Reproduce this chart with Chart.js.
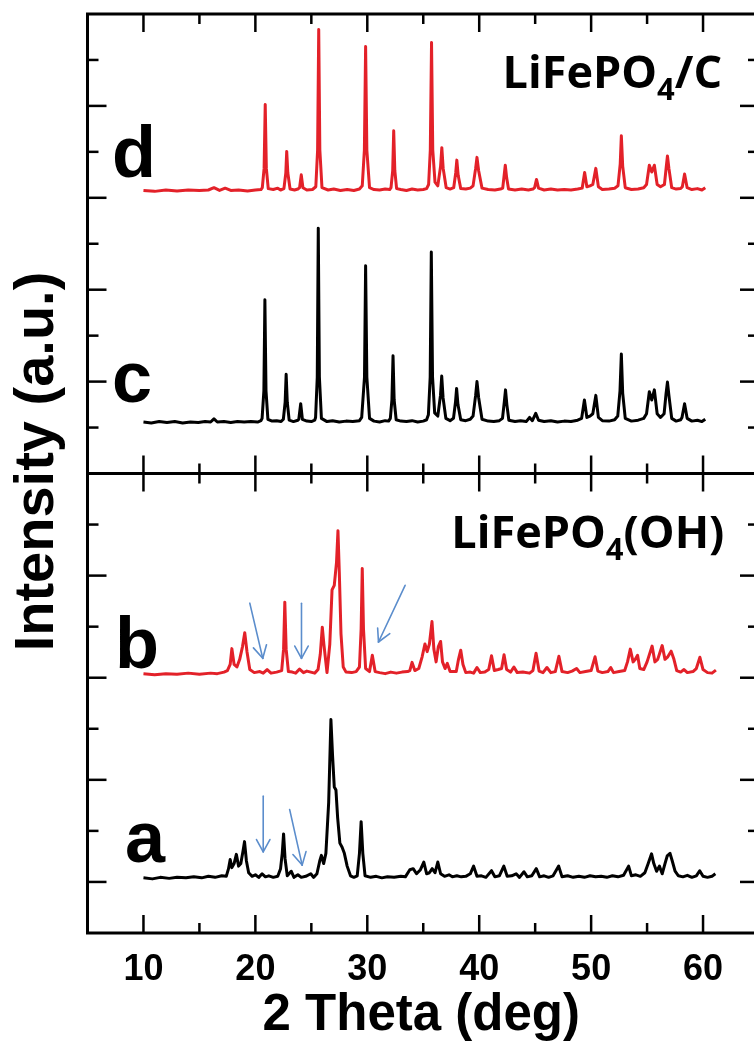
<!DOCTYPE html>
<html>
<head>
<meta charset="utf-8">
<script src="https://cdn.jsdelivr.net/npm/chart.js@4.4.1/dist/chart.umd.min.js"></script>
<style>
  html, body { margin: 0; padding: 0; background: #fff; overflow: hidden; }
  #wrap { position: relative; width: 754px; height: 1042px; overflow: hidden; }
  canvas { display: block; }
</style>
</head>
<body>
<div id="wrap"><canvas id="xrd" width="762" height="1042"></canvas></div>
<script>
// 2 theta ticks (deg)
const thetaMajor = [10, 20, 30, 40, 50, 60];
const thetaMinor = [15, 25, 35, 45, 55];

// y ticks of each panel (arbitrary units)
const topTicks = [0, 1, 2, 3, 4, 5, 6, 7, 8, 9, 10];
const topMajor = [2, 4, 6, 8];
const bottomTicks = [0, 1, 2, 3, 4, 5, 6, 7, 8, 9];
const bottomMajor = [1, 3, 5, 7];

// vertical offsets of each pattern inside its panel
const offsets = { a: 1.06, b: 5.06, c: 1.1, d: 6.14 };

// d: LiFePO4/C (red), [2theta, intensity above baseline]
const patternD = [
  [10,0.02],[11,0.0],[12,0.03],[13,0.01],[14,0.03],[15,0.02],[15.8,0.03],[16.3,0.08],[16.8,0.02],
  [17.3,0.07],[17.8,0.02],[18.5,0.03],[19.3,0.01],[20,0.03],[20.5,0.04],
  [20.62,0.08],[20.78,0.5],[20.88,1.89],[20.98,0.5],[21.15,0.06],
  [21.6,0.04],[22.0,0.07],[22.25,0.03],
  [22.55,0.06],[22.72,0.4],[22.8,0.87],[22.9,0.4],[23.1,0.05],
  [23.5,0.03],[23.8,0.05],
  [23.95,0.08],[24.1,0.36],[24.25,0.08],
  [24.6,0.03],[25.1,0.04],
  [25.4,0.1],[25.56,0.9],[25.66,3.52],[25.76,0.9],[25.95,0.08],
  [26.5,0.03],[27,0.05],[27.6,0.02],[28.2,0.04],[28.8,0.02],[29.3,0.05],
  [29.55,0.12],[29.74,0.9],[29.85,3.15],[29.96,0.9],[30.2,0.08],
  [30.6,0.04],[31.1,0.03],[31.6,0.05],[32.0,0.04],
  [32.12,0.08],[32.27,0.45],[32.36,1.32],[32.46,0.45],[32.62,0.06],
  [33,0.04],[33.5,0.02],[34,0.05],[34.5,0.03],[35.0,0.04],[35.3,0.06],
  [35.48,0.15],[35.63,0.9],[35.74,3.24],[35.85,0.9],[36.05,0.2],
  [36.3,0.12],[36.55,0.55],[36.66,0.95],[36.78,0.5],[37.05,0.08],
  [37.4,0.05],
  [37.72,0.08],[37.9,0.4],[38.0,0.68],[38.12,0.35],[38.35,0.06],
  [38.8,0.05],[39.2,0.07],
  [39.45,0.12],[39.68,0.5],[39.8,0.74],[39.95,0.45],[40.25,0.07],
  [40.8,0.04],[41.4,0.03],[41.9,0.05],
  [42.1,0.07],[42.23,0.35],[42.33,0.57],[42.45,0.3],[42.62,0.05],
  [43.2,0.03],[43.8,0.05],[44.4,0.03],[44.8,0.05],
  [44.95,0.08],[45.12,0.26],[45.3,0.07],
  [45.8,0.03],[46.4,0.05],[47,0.03],[47.6,0.04],[48.2,0.03],[48.8,0.05],
  [49.2,0.07],[49.42,0.41],[49.62,0.1],[49.9,0.12],
  [50.15,0.15],[50.42,0.5],[50.65,0.1],
  [51.0,0.04],[51.6,0.05],[52.1,0.07],
  [52.4,0.12],[52.6,0.6],[52.7,1.21],[52.82,0.55],[53.05,0.08],
  [53.6,0.04],[54.2,0.05],[54.7,0.08],
  [54.95,0.15],[55.2,0.57],[55.42,0.42],[55.65,0.57],[55.9,0.15],[56.2,0.1],
  [56.55,0.15],[56.72,0.55],[56.82,0.77],[56.95,0.5],[57.2,0.08],
  [57.6,0.05],[58.0,0.06],
  [58.15,0.1],[58.35,0.38],[58.58,0.08],
  [59.0,0.04],[59.5,0.06],[59.9,0.03],[60.2,0.08]
];

// c: LiFePO4/C (black)
const patternC = [
  [10,0.02],[10.7,0.0],[11.4,0.03],[12.1,0.01],[12.8,0.03],[13.5,0.0],[14.2,0.02],[14.9,0.01],
  [15.5,0.03],[16.0,0.02],[16.3,0.09],[16.6,0.02],[17.2,0.03],[17.8,0.01],[18.4,0.03],[19.0,0.02],
  [19.6,0.03],[20.2,0.02],[20.5,0.05],
  [20.6,0.1],[20.76,0.7],[20.85,2.68],[20.95,0.7],[21.12,0.08],
  [21.5,0.04],[21.9,0.05],[22.3,0.03],
  [22.5,0.08],[22.66,0.45],[22.75,1.06],[22.85,0.45],[23.02,0.06],
  [23.4,0.03],[23.8,0.06],
  [23.88,0.08],[24.05,0.42],[24.2,0.08],
  [24.6,0.04],[25.0,0.03],[25.3,0.06],
  [25.38,0.12],[25.53,1.0],[25.62,4.24],[25.72,1.0],[25.9,0.1],
  [26.4,0.03],[26.9,0.05],[27.5,0.02],[28.1,0.04],[28.7,0.03],[29.3,0.05],
  [29.5,0.12],[29.75,1.0],[29.85,3.42],[29.96,1.0],[30.2,0.1],
  [30.6,0.04],[31.1,0.02],[31.6,0.05],[31.9,0.04],
  [32.06,0.1],[32.2,0.5],[32.3,1.46],[32.4,0.5],[32.58,0.07],
  [33.0,0.04],[33.5,0.03],[34.0,0.05],[34.5,0.02],[35.0,0.04],[35.3,0.07],
  [35.46,0.18],[35.62,1.0],[35.72,3.72],[35.83,1.0],[36.02,0.22],
  [36.3,0.15],[36.54,0.6],[36.65,1.02],[36.77,0.55],[37.02,0.1],
  [37.4,0.05],
  [37.7,0.1],[37.88,0.45],[37.98,0.75],[38.1,0.4],[38.35,0.07],
  [38.8,0.05],[39.2,0.08],
  [39.45,0.15],[39.68,0.6],[39.8,0.9],[39.95,0.55],[40.25,0.08],
  [40.8,0.04],[41.3,0.03],[41.8,0.05],
  [42.08,0.1],[42.24,0.45],[42.35,0.72],[42.47,0.4],[42.65,0.06],
  [43.2,0.03],[43.7,0.05],[44.2,0.03],[44.5,0.12],[44.75,0.05],[45.05,0.21],[45.3,0.06],
  [45.8,0.03],[46.4,0.05],[47.0,0.02],[47.6,0.04],[48.2,0.03],[48.8,0.06],
  [49.15,0.1],[49.4,0.5],[49.62,0.12],[49.9,0.15],
  [50.15,0.2],[50.42,0.6],[50.65,0.12],
  [51.0,0.05],[51.6,0.04],[52.1,0.07],
  [52.38,0.15],[52.58,0.7],[52.7,1.5],[52.82,0.65],[53.05,0.1],
  [53.6,0.04],[54.2,0.06],[54.7,0.1],
  [54.95,0.2],[55.2,0.68],[55.42,0.5],[55.65,0.72],[55.9,0.2],[56.2,0.12],
  [56.52,0.2],[56.7,0.65],[56.82,0.89],[56.95,0.6],[57.2,0.1],
  [57.6,0.04],[58.0,0.07],
  [58.12,0.12],[58.35,0.42],[58.58,0.1],
  [59.0,0.04],[59.5,0.06],[59.9,0.03],[60.2,0.08]
];

// b: LiFePO4(OH) (red)
const patternB = [
  [10,0.02],[11,0.0],[12,0.02],[13,0.01],[14,0.03],[15,0.01],[16,0.03],[16.6,0.02],[17.2,0.05],[17.5,0.08],
  [17.75,0.2],[17.9,0.51],[18.1,0.2],[18.35,0.15],[18.6,0.3],[18.85,0.55],[19.05,0.82],[19.25,0.45],[19.5,0.1],
  [19.9,0.04],[20.4,0.06],[20.7,0.03],[21.05,0.1],[21.4,0.03],[21.9,0.05],
  [22.35,0.08],[22.52,0.5],[22.63,1.42],[22.75,0.5],[22.95,0.06],
  [23.3,0.05],[23.6,0.03],[23.95,0.11],[24.3,0.04],[24.6,0.07],[24.95,0.05],[25.3,0.03],[25.6,0.1],
  [25.8,0.4],[25.98,0.93],[26.12,0.6],[26.4,0.04],
  [26.65,0.6],[26.85,1.66],[27.05,1.75],[27.25,2.2],[27.38,2.82],[27.5,2.0],[27.65,0.8],[27.85,0.15],
  [28.1,0.05],[28.6,0.04],[29.0,0.06],
  [29.3,0.15],[29.45,0.9],[29.55,2.08],[29.66,0.9],[29.85,0.12],
  [30.2,0.06],[30.45,0.38],[30.7,0.06],
  [31.1,0.04],[31.6,0.02],[32.1,0.05],[32.6,0.03],[33.1,0.05],[33.6,0.06],
  [33.8,0.08],[34.0,0.24],[34.25,0.08],
  [34.6,0.12],[34.9,0.35],[35.15,0.6],[35.35,0.45],[35.55,0.6],[35.78,1.04],[35.95,0.5],
  [36.15,0.25],[36.35,0.55],[36.55,0.65],[36.72,0.25],[36.95,0.12],[37.15,0.22],[37.4,0.06],
  [37.95,0.06],[38.15,0.3],[38.35,0.48],[38.55,0.2],[38.8,0.04],
  [39.2,0.05],[39.5,0.03],[39.8,0.14],[40.1,0.04],[40.5,0.05],
  [40.85,0.1],[41.1,0.37],[41.35,0.08],[41.7,0.1],
  [42.0,0.12],[42.22,0.39],[42.45,0.1],
  [42.8,0.05],[43.1,0.15],[43.4,0.04],[43.9,0.05],[44.5,0.03],[44.8,0.08],
  [45.08,0.42],[45.35,0.07],
  [45.7,0.04],[46.05,0.14],[46.4,0.04],[46.8,0.06],
  [47.12,0.36],[47.4,0.06],
  [47.9,0.04],[48.3,0.07],[48.7,0.12],[49.0,0.04],[49.5,0.06],[50.0,0.08],
  [50.35,0.35],[50.6,0.07],
  [51.0,0.04],[51.5,0.06],[51.75,0.14],[52.0,0.04],[52.5,0.06],[53.0,0.08],
  [53.25,0.25],[53.5,0.5],[53.75,0.25],[53.95,0.3],[54.15,0.38],[54.35,0.12],
  [54.7,0.1],[55.0,0.25],[55.45,0.56],[55.7,0.25],[55.95,0.3],[56.35,0.57],[56.6,0.3],
  [56.85,0.35],[57.15,0.46],[57.4,0.3],[57.65,0.08],
  [58.0,0.05],[58.3,0.1],[58.6,0.04],[59.1,0.06],[59.4,0.12],[59.72,0.34],[60.0,0.1],
  [60.4,0.04],[60.8,0.03],[61.15,0.09]
];

// a: LiFePO4(OH) (black)
const patternA = [
  [10,0.02],[10.8,0.0],[11.5,0.03],[12.3,0.01],[13,0.03],[13.8,0.02],[14.5,0.04],[15.2,0.02],
  [15.8,0.05],[16.4,0.03],[17.0,0.06],[17.4,0.05],
  [17.6,0.2],[17.75,0.38],[17.9,0.22],[18.1,0.3],[18.3,0.48],[18.5,0.25],[18.7,0.3],[18.9,0.55],
  [19.03,0.73],[19.2,0.35],[19.4,0.12],[19.7,0.05],
  [20.0,0.08],[20.3,0.03],[20.6,0.1],[20.9,0.04],[21.2,0.06],[21.6,0.03],[22.0,0.05],[22.25,0.2],
  [22.4,0.5],[22.52,0.88],[22.65,0.4],[22.85,0.06],
  [23.2,0.15],[23.45,0.03],[23.8,0.08],[24.1,0.03],[24.5,0.05],[24.95,0.1],[25.2,0.03],[25.5,0.1],
  [25.75,0.35],[25.9,0.46],[26.1,0.3],[26.3,0.5],[26.55,1.5],[26.75,3.12],[26.9,2.4],[27.05,1.8],
  [27.2,1.74],[27.35,1.2],[27.55,0.7],[27.75,0.62],[27.95,0.5],[28.2,0.25],[28.5,0.06],
  [28.8,0.03],[29.1,0.06],[29.3,0.5],[29.45,1.12],[29.6,0.5],[29.8,0.06],
  [30.3,0.03],[30.8,0.05],[31.3,0.02],[31.8,0.04],[32.4,0.03],[33.0,0.05],[33.4,0.04],
  [33.8,0.18],[34.1,0.2],[34.4,0.1],[34.75,0.18],[35.05,0.33],[35.3,0.1],[35.55,0.12],
  [35.8,0.2],[36.05,0.12],[36.3,0.33],[36.55,0.1],[36.9,0.05],[37.3,0.08],[37.6,0.04],
  [38.0,0.06],[38.4,0.04],[38.8,0.05],[39.2,0.1],[39.5,0.25],[39.8,0.05],[40.2,0.06],
  [40.6,0.03],[41.1,0.16],[41.4,0.04],[41.8,0.06],[42.2,0.25],[42.5,0.05],[42.9,0.06],
  [43.3,0.1],[43.6,0.03],[44.0,0.14],[44.3,0.04],[44.7,0.06],[45.1,0.2],[45.4,0.04],
  [45.8,0.06],[46.2,0.03],[46.6,0.06],[47.1,0.25],[47.4,0.04],[47.9,0.06],[48.4,0.03],
  [48.9,0.05],[49.4,0.03],[49.9,0.06],[50.4,0.04],[50.9,0.05],[51.4,0.03],[51.9,0.06],
  [52.4,0.04],[52.9,0.07],[53.35,0.25],[53.6,0.06],[54.0,0.08],[54.4,0.05],[54.8,0.12],
  [55.1,0.3],[55.4,0.49],[55.6,0.3],[55.85,0.15],[56.1,0.25],[56.35,0.1],[56.6,0.3],
  [56.8,0.45],[57.05,0.5],[57.25,0.35],[57.5,0.15],[57.8,0.06],[58.2,0.04],[58.6,0.07],
  [59.0,0.03],[59.4,0.06],[59.7,0.16],[60.0,0.05],[60.4,0.03],[60.8,0.05],[61.1,0.1]
];

// blue arrows in the lower panel, [x0, y0, x1(tip), y1(tip)]
const arrows = [
  [19.5, 6.46, 20.66, 5.38],
  [24.12, 6.46, 24.12, 5.38],
  [33.38, 6.81, 31.0, 5.7],
  [20.7, 2.68, 20.7, 1.59],
  [23.06, 2.42, 24.18, 1.33]
];

const FONT = "'Liberation Sans', Arial, Helvetica, sans-serif";
const FORMULA_FONT = "'Open Sans', 'Noto Sans', sans-serif";
const RED = '#e32129';
const BLUE = '#5b8dcc';

function toPoints(pattern, offset) {
  return pattern.map(([x, v]) => ({ x: x, y: v + offset }));
}

function line(ctx, x0, y0, x1, y1) {
  ctx.beginPath();
  ctx.moveTo(x0, y0);
  ctx.lineTo(x1, y1);
  ctx.stroke();
}

// frame, panel divider, inward ticks and x labels
const frameTicks = {
  id: 'frameTicks',
  afterDatasetsDraw(chart) {
    const { ctx, chartArea: a, scales } = chart;
    const xs = scales.x, yT = scales.yTop, yB = scales.yBottom;
    const mid = yB.top;
    ctx.save();
    ctx.strokeStyle = '#000';
    ctx.lineWidth = 2.5;
    ctx.lineCap = 'butt';

    const xTicks = [...thetaMajor.map(v => [v, 18]), ...thetaMinor.map(v => [v, 10])];
    xTicks.forEach(([v, len]) => {
      const px = xs.getPixelForValue(v);
      line(ctx, px, a.top, px, a.top + len);
      line(ctx, px, mid - len, px, mid + len);
      line(ctx, px, a.bottom, px, a.bottom - len);
    });

    const yTicks = (scale, ticks, major) => ticks.forEach(v => {
      if (v === scale.min || v === scale.max) return;
      const py = scale.getPixelForValue(v);
      const len = major.includes(v) ? 19 : 11;
      line(ctx, a.left, py, a.left + len, py);
      line(ctx, a.right, py, a.right - len, py);
    });
    yTicks(yT, topTicks, topMajor);
    yTicks(yB, bottomTicks, bottomMajor);

    ctx.lineWidth = 3;
    ctx.strokeRect(a.left, a.top, a.right - a.left, a.bottom - a.top);
    line(ctx, a.left, mid, a.right, mid);

    // tick labels and axis title
    ctx.fillStyle = '#000';
    ctx.textAlign = 'center';
    ctx.textBaseline = 'alphabetic';
    ctx.font = 'bold 36px ' + FONT;
    xs.ticks.forEach(t => ctx.fillText(String(t.value), xs.getPixelForValue(t.value), a.bottom + 47));
    ctx.font = 'bold 51px ' + FONT;
    ctx.fillText('2 Theta (deg)', (a.left + a.right) / 2 - 2, a.bottom + 97);
    ctx.restore();
  }
};

function drawFormula(ctx, tail, xRight, yBase) {
  const big = 'bold 45px ' + FORMULA_FONT;
  const small = 'bold 31px ' + FORMULA_FONT;
  ctx.font = big;
  const w1 = ctx.measureText('LiFePO').width;
  const w3 = ctx.measureText(tail).width;
  ctx.font = small;
  const w2 = ctx.measureText('4').width;
  let x = xRight - (w1 + w2 + w3);
  ctx.textAlign = 'left';
  ctx.textBaseline = 'alphabetic';
  ctx.font = big;
  ctx.fillText('LiFePO', x, yBase);
  x += w1;
  ctx.font = small;
  ctx.fillText('4', x, yBase + 12);
  x += w2;
  ctx.font = big;
  ctx.fillText(tail, x, yBase);
}

// sample letters, compound names, arrows, y title
const annotations = {
  id: 'annotations',
  afterDraw(chart) {
    const { ctx, chartArea: a, scales } = chart;
    const xs = scales.x, yT = scales.yTop, yB = scales.yBottom;
    ctx.save();
    ctx.fillStyle = '#000';
    ctx.textAlign = 'left';
    ctx.textBaseline = 'alphabetic';
    ctx.font = 'bold 72px ' + FONT;
    ctx.fillText('d', xs.getPixelForValue(7.2), yT.getPixelForValue(6.45));
    ctx.fillText('c', xs.getPixelForValue(7.2), yT.getPixelForValue(1.55));
    ctx.fillText('b', xs.getPixelForValue(7.45), yB.getPixelForValue(5.2));
    ctx.fillText('a', xs.getPixelForValue(8.35), yB.getPixelForValue(1.39));

    drawFormula(ctx, '/C', xs.getPixelForValue(61.7), yT.getPixelForValue(8.39));
    drawFormula(ctx, '(OH)', xs.getPixelForValue(61.9), yB.getPixelForValue(7.55));

    ctx.strokeStyle = BLUE;
    ctx.lineWidth = 1.6;
    ctx.lineCap = 'round';
    arrows.forEach(([x0, y0, x1, y1]) => {
      const p0 = [xs.getPixelForValue(x0), yB.getPixelForValue(y0)];
      const p1 = [xs.getPixelForValue(x1), yB.getPixelForValue(y1)];
      line(ctx, p0[0], p0[1], p1[0], p1[1]);
      const ang = Math.atan2(p1[1] - p0[1], p1[0] - p0[0]);
      [-0.5, 0.5].forEach(d => {
        line(ctx, p1[0], p1[1], p1[0] - 14 * Math.cos(ang + d), p1[1] - 14 * Math.sin(ang + d));
      });
    });

    ctx.fillStyle = '#000';
    ctx.font = 'bold 56px ' + FONT;
    ctx.textAlign = 'center';
    ctx.translate(a.left - 35, (a.top + a.bottom) / 2 - 12);
    ctx.rotate(-Math.PI / 2);
    ctx.fillText('Intensity (a.u.)', 0, 0);
    ctx.restore();
  }
};

const lineStyle = { borderWidth: 3, pointRadius: 0, tension: 0, fill: false, borderJoinStyle: 'round' };

new Chart(document.getElementById('xrd'), {
  type: 'line',
  data: {
    datasets: [
      { ...lineStyle, label: 'd', data: toPoints(patternD, offsets.d), borderColor: RED, yAxisID: 'yTop' },
      { ...lineStyle, label: 'c', data: toPoints(patternC, offsets.c), borderColor: '#000', yAxisID: 'yTop' },
      { ...lineStyle, label: 'b', data: toPoints(patternB, offsets.b), borderColor: RED, yAxisID: 'yBottom' },
      { ...lineStyle, label: 'a', data: toPoints(patternA, offsets.a), borderColor: '#000', yAxisID: 'yBottom' }
    ]
  },
  options: {
    responsive: false,
    animation: false,
    layout: { padding: { left: 87.5, top: 14, right: 3, bottom: 109 } },
    plugins: { legend: { display: false }, tooltip: { enabled: false } },
    scales: {
      x: {
        type: 'linear',
        min: 5,
        max: 65,
        afterBuildTicks: s => { s.ticks = thetaMajor.map(v => ({ value: v })); },
        grid: { display: false, drawTicks: false },
        border: { display: false },
        ticks: { display: false }
      },
      yTop: {
        type: 'linear', position: 'left', stack: 'panels', stackWeight: 1, weight: 2,
        min: 0, max: 10,
        afterBuildTicks: s => { s.ticks = topTicks.map(v => ({ value: v })); },
        grid: { display: false, drawTicks: false },
        border: { display: false },
        ticks: { display: false }
      },
      yBottom: {
        type: 'linear', position: 'left', stack: 'panels', stackWeight: 1, weight: 1,
        min: 0, max: 9,
        afterBuildTicks: s => { s.ticks = bottomTicks.map(v => ({ value: v })); },
        grid: { display: false, drawTicks: false },
        border: { display: false },
        ticks: { display: false }
      }
    }
  },
  plugins: [frameTicks, annotations]
});
</script>
</body>
</html>
